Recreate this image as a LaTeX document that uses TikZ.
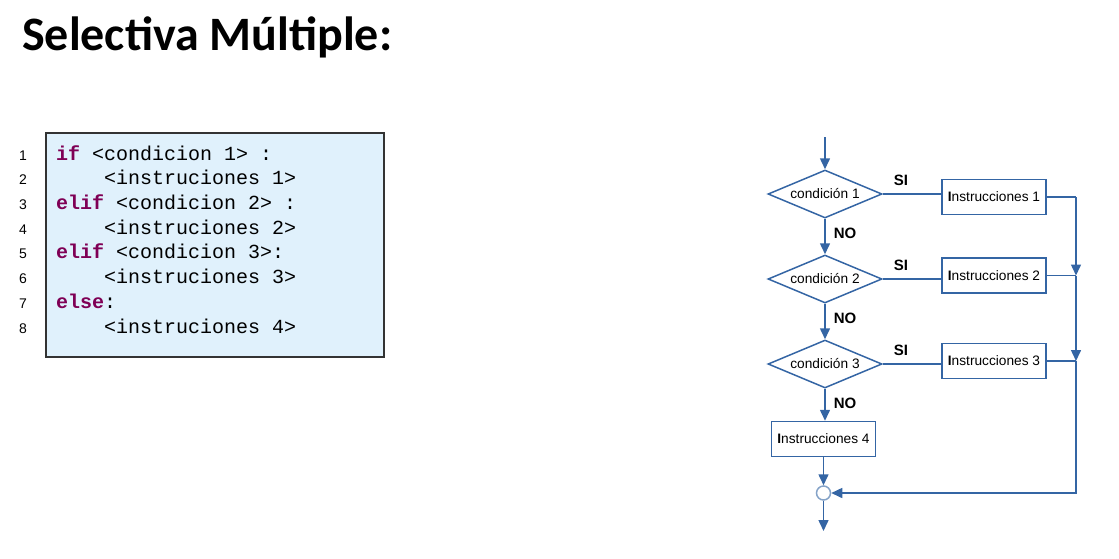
\documentclass[tikz,border=0pt]{standalone}
\usepackage{fontspec}
\setmainfont{Liberation Sans}
\newfontfamily\titlefont{Carlito}
\newfontfamily\codefont{Liberation Mono}
\usetikzlibrary{shapes.geometric,arrows.meta}
\definecolor{flow}{RGB}{52,101,164}
\definecolor{kw}{RGB}{127,0,85}
\definecolor{codebg}{RGB}{224,241,252}
\begin{document}
\begin{tikzpicture}[x=1pt,y=-1pt,
  flowline/.style={draw=flow,line width=1.5pt},
  arr/.style={flowline,-{Triangle[length=11pt,width=10pt]}},
  cond/.style={diamond,draw=flow,line width=1.5pt,aspect=2.375,minimum width=114pt,minimum height=48pt,inner sep=0pt,font=\fontsize{13.7}{15}\selectfont},
  instr/.style={rectangle,draw=flow,line width=1.5pt,minimum width=104pt,minimum height=35pt,inner sep=0pt,font=\fontsize{13.7}{15}\selectfont},
  lbl/.style={font=\bfseries\fontsize{15}{17}\selectfont,inner sep=0pt},
  lnum/.style={anchor=base,font=\fontsize{14}{16}\selectfont,inner sep=0pt},
  code/.style={anchor=base west,font=\codefont\fontsize{20}{24}\selectfont,inner sep=0pt}]
\useasboundingbox (0,0) rectangle (1119,558);
% title
\node[anchor=base west,inner sep=0pt,font=\titlefont\bfseries\fontsize{48}{54}\selectfont] (title) at (22,50) {Selectiva Múltiple:};
% code box
\node[draw=black!80,line width=1.2pt,fill=codebg,minimum width=338pt,minimum height=224pt,inner sep=0pt] (codebox) at (215,245) {};
\foreach \i [count=\k] in {160,184.7,209.4,234.1,258.8,283.5,308.2,333}{
  \node[lnum] (n\k) at (23,\i) {\k};
}
\node[code] (c1) at (56,160) {\textcolor{kw}{\bfseries if} <condicion 1> :};
\node[code] (c2) at (104,184.7) {<instruciones 1>};
\node[code] (c3) at (56,209.4) {\textcolor{kw}{\bfseries elif} <condicion 2> :};
\node[code] (c4) at (104,234.1) {<instruciones 2>};
\node[code] (c5) at (56,258.8) {\textcolor{kw}{\bfseries elif} <condicion 3>:};
\node[code] (c6) at (104,283.5) {<instruciones 3>};
\node[code] (c7) at (56,308.2) {\textcolor{kw}{\bfseries else}:};
\node[code] (c8) at (104,333) {<instruciones 4>};
% flowchart
\coordinate (start) at (825,137);
\node[cond] (d1) at (825,194) {condición 1};
\node[cond] (d2) at (825,279) {condición 2};
\node[cond] (d3) at (825,364) {condición 3};
\node[instr] (i1) at (994,197) {\textbf{I}nstrucciones 1};
\node[instr] (i2) at (994,275.5) {\textbf{I}nstrucciones 2};
\node[instr] (i3) at (994,361) {\textbf{I}nstrucciones 3};
\node[instr] (i4) at (823.5,439) {\textbf{I}nstrucciones 4};
\node[circle,draw=flow!60,line width=1.5pt,minimum size=14pt,inner sep=0pt,fill=white] (m) at (823.5,493) {};
\coordinate (end) at (823.5,531);
\coordinate (r1) at (1076,197);
\coordinate (r2) at (1076,275.5);
\coordinate (r3) at (1076,361);
\coordinate (r4) at (1076,493);
\draw[arr] (start) -- (d1.north);
\draw[arr] (d1.south) -- (d2.north);
\draw[arr] (d2.south) -- (d3.north);
\draw[arr] (d3.south) -- (d3.south |- i4.north);
\draw[flowline] (d1.east) -- (d1.east -| i1.west);
\draw[flowline] (d2.east) -- (d2.east -| i2.west);
\draw[flowline] (d3.east) -- (d3.east -| i3.west);
\draw[flowline] (i1.east) -- (r1);
\draw[arr] (r1) -- (r2);
\draw[flowline] (i2.east) -- (r2);
\draw[arr] (r2) -- (r3);
\draw[flowline] (i3.east) -- (r3);
\draw[arr] (r3) -- (r4) -- (m.east);
\draw[arr] (i4.south) -- (m.north);
\draw[arr] (m.south) -- (end);
\node[lbl] (si1) at (901,180) {SI};
\node[lbl] (si2) at (901,265) {SI};
\node[lbl] (si3) at (901,350) {SI};
\node[lbl] (no1) at (845,233) {NO};
\node[lbl] (no2) at (845,318) {NO};
\node[lbl] (no3) at (845,403) {NO};
\end{tikzpicture}
\end{document}
